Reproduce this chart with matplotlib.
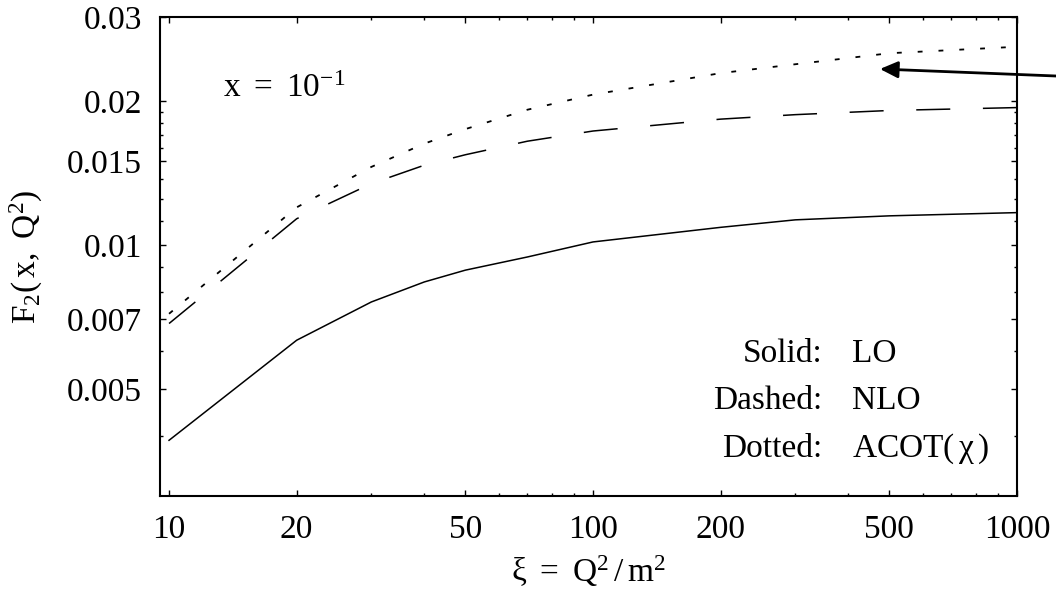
import numpy as np
import matplotlib
matplotlib.use('Agg')
import matplotlib.pyplot as plt
from matplotlib.ticker import FixedLocator, FixedFormatter, NullFormatter

# ----------------------------
# Datos
# ----------------------------
xi = [10, 20, 30, 40, 50, 70, 100, 200, 300, 500, 1000]
f2_lo = [0.00391, 0.00633, 0.00761, 0.00838, 0.00887, 0.00945, 0.01016,
         0.0109, 0.0113, 0.01152, 0.0117]
f2_nlo = [0.00686, 0.01136, 0.01345, 0.0147, 0.01546, 0.0165, 0.01733,
          0.01835, 0.01875, 0.01913, 0.0194]
f2_acot = [0.00719, 0.0120, 0.01458, 0.01631, 0.01749, 0.0192, 0.02065,
           0.0229, 0.0239, 0.0252, 0.0260]

x_major = [10, 20, 50, 100, 200, 500, 1000]
x_major_labels = ['10', '20', '50', '100', '200', '500', '1000']
x_minor = [30, 40, 60, 70, 80, 90, 300, 400, 600, 700, 800, 900]
y_major = [0.005, 0.007, 0.01, 0.015, 0.02, 0.03]
y_major_labels = ['0.005', '0.007', '0.01', '0.015', '0.02', '0.03']
y_minor = [0.004, 0.006, 0.008, 0.009, 0.01125, 0.0125, 0.01375,
           0.016, 0.017, 0.018, 0.019]

legend_keys = ['Solid:', 'Dashed:', 'Dotted:']
legend_names = ['LO', 'NLO', r'ACOT$(\,\chi\,)$']

# ----------------------------
# Estilo
# ----------------------------
plt.rcParams['font.family'] = ['Liberation Serif', 'DejaVu Serif']
plt.rcParams['mathtext.fontset'] = 'custom'
plt.rcParams['mathtext.rm'] = 'Liberation Serif'
plt.rcParams['mathtext.it'] = 'Liberation Serif'
plt.rcParams['mathtext.bf'] = 'Liberation Serif:bold'
plt.rcParams['lines.scale_dashes'] = False

fs = 24

fig = plt.figure(figsize=(10.56, 5.91), dpi=100)
ax = fig.add_axes([0.1515, 0.1607, 0.8116, 0.8105])

ax.plot(xi, f2_lo, color='black', lw=1.1, ls='-')
ax.plot(xi, f2_nlo, color='black', lw=1.1, ls=(0, (24.5, 23.5)))
ax.plot(xi, f2_acot, color='black', lw=1.3, ls=(0, (3.5, 11.5)))

ax.set_xscale('log')
ax.set_yscale('log')
ax.set_xlim(9.52, 1000)
ax.set_ylim(0.00299, 0.03)

ax.xaxis.set_major_locator(FixedLocator(x_major))
ax.xaxis.set_major_formatter(FixedFormatter(x_major_labels))
ax.xaxis.set_minor_locator(FixedLocator(x_minor))
ax.xaxis.set_minor_formatter(NullFormatter())
ax.yaxis.set_major_locator(FixedLocator(y_major))
ax.yaxis.set_major_formatter(FixedFormatter(y_major_labels))
ax.yaxis.set_minor_locator(FixedLocator(y_minor))
ax.yaxis.set_minor_formatter(NullFormatter())

ax.tick_params(which='both', direction='in', top=True, right=True, width=1.0)
ax.tick_params(which='major', length=4.5)
ax.tick_params(which='minor', length=2.5)
ax.tick_params(axis='x', which='major', labelsize=fs, pad=13)
ax.tick_params(axis='y', which='major', labelsize=fs, pad=13)
for s in ax.spines.values():
    s.set_linewidth(1.5)

# Etiquetas de ejes
fig.text(588 / 1056, 1 - 582 / 591, r'$\xi\ =\ \mathrm{Q}^2\,/\,\mathrm{m}^2$',
         ha='center', va='baseline', fontsize=fs)
fig.text(26 / 1056, 1 - 257 / 591, r'$\mathrm{F}_2(\,\mathrm{x},\ \mathrm{Q}^2)$',
         ha='center', va='center', rotation=90, fontsize=fs)

# Texto x = 10^-1
ax.text(0.0739, 0.833, r'$\mathrm{x}\ =\ 10^{-1}$', transform=ax.transAxes,
        ha='left', va='baseline', fontsize=fs)

# Leyenda manual
y_rows = [0.2804, 0.1816, 0.0820]
for key, name, yy in zip(legend_keys, legend_names, y_rows):
    ax.text(0.7733, yy, key, transform=ax.transAxes, ha='right',
            va='baseline', fontsize=fs)
    ax.text(0.8078, yy, name, transform=ax.transAxes, ha='left',
            va='baseline', fontsize=fs)

# Flecha
ax.annotate('', xy=(475, 0.02336), xycoords='data',
            xytext=(1.0, 1 - 76 / 591), textcoords='figure fraction',
            arrowprops=dict(arrowstyle='-|>,head_length=0.6,head_width=0.28',
                            mutation_scale=18, lw=2, color='black',
                            shrinkA=0, shrinkB=0),
            annotation_clip=False)

fig.savefig('out.png', dpi=100)
